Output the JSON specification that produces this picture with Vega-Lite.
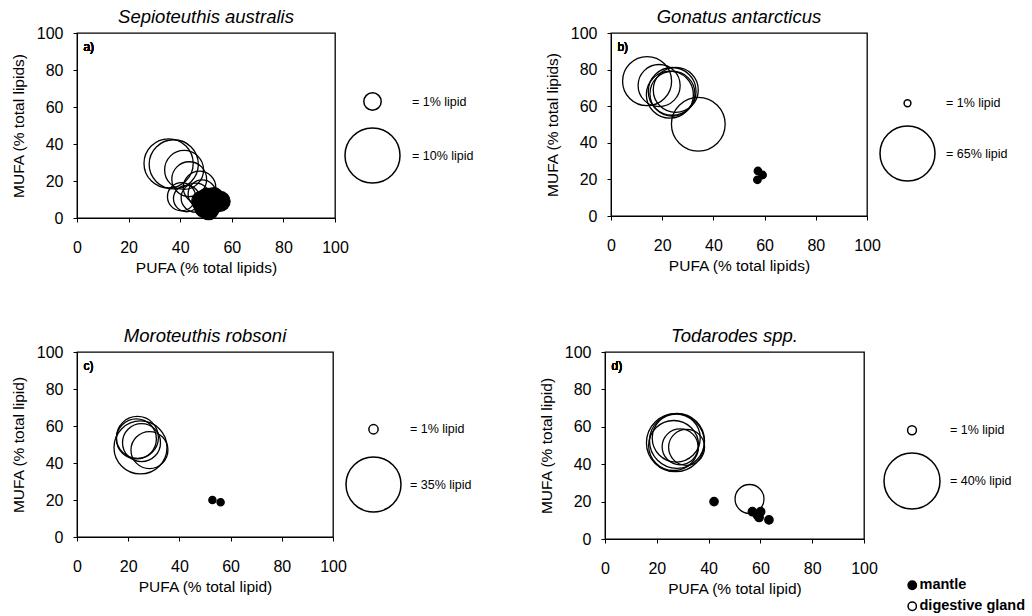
{
  "$schema": "https://vega.github.io/schema/vega-lite/v6.json",
  "background": "white",
  "padding": {"left": 10, "top": 6, "right": 0, "bottom": 0},
  "config": {
    "font": "Liberation Sans",
    "view": {"stroke": "black", "strokeWidth": 1.3},
    "axis": {"grid": false, "domainColor": "black", "tickColor": "black", "tickSize": 4, "tickCount": 10, "labelFontSize": 16, "labelColor": "black", "labelOverlap": false, "labelFlush": false, "labelBound": false, "titleFontSize": 15.5, "titleFontWeight": "normal", "titleColor": "black", "labelPadding": 10, "titlePadding": 10},
    "axisX": {"labelPadding": 17, "titlePadding": 5},
    "title": {"fontSize": 18.5, "fontStyle": "italic", "fontWeight": "normal", "frame": "group", "offset": -1, "color": "black"},
    "legend": {"labelColor": "black", "padding": 0}
  },
  "spacing": 48,
  "resolve": {"scale": {"size": "independent", "fill": "independent"}, "legend": {"size": "independent", "fill": "independent"}},
  "vconcat": [
    {
      "spacing": 69,
      "resolve": {"scale": {"size": "independent", "fill": "independent"}, "legend": {"size": "independent", "fill": "independent"}},
      "hconcat": [
        {
          "title": "Sepioteuthis australis",
          "width": 258, "height": 185,
          "data": {"values": [
            {"PUFA": 35.5, "MUFA": 29.5, "lipid": 8.0, "tissue": "digestive gland"},
            {"PUFA": 37.5, "MUFA": 29, "lipid": 8.0, "tissue": "digestive gland"},
            {"PUFA": 41.5, "MUFA": 26, "lipid": 5.0, "tissue": "digestive gland"},
            {"PUFA": 43.5, "MUFA": 21, "lipid": 4.0, "tissue": "digestive gland"},
            {"PUFA": 47.5, "MUFA": 16.5, "lipid": 3.5, "tissue": "digestive gland"},
            {"PUFA": 40.5, "MUFA": 11.5, "lipid": 2.6, "tissue": "digestive gland"},
            {"PUFA": 42.5, "MUFA": 10.5, "lipid": 2.3, "tissue": "digestive gland"},
            {"PUFA": 46, "MUFA": 11, "lipid": 2.8, "tissue": "digestive gland"},
            {"PUFA": 48.5, "MUFA": 13, "lipid": 2.6, "tissue": "digestive gland"},
            {"PUFA": 48.5, "MUFA": 9, "lipid": 1.4, "tissue": "mantle"},
            {"PUFA": 49.5, "MUFA": 6, "lipid": 1.4, "tissue": "mantle"},
            {"PUFA": 50.5, "MUFA": 10.5, "lipid": 1.4, "tissue": "mantle"},
            {"PUFA": 52, "MUFA": 7, "lipid": 1.4, "tissue": "mantle"},
            {"PUFA": 53, "MUFA": 11, "lipid": 1.3, "tissue": "mantle"},
            {"PUFA": 55.5, "MUFA": 9, "lipid": 1.3, "tissue": "mantle"},
            {"PUFA": 51, "MUFA": 4.5, "lipid": 1.3, "tissue": "mantle"}
          ]},
          "layer": [
            {
              "mark": {"type": "point", "shape": "circle", "filled": true, "stroke": "black", "strokeWidth": 1.3, "opacity": 1},
              "encoding": {
                "x": {"field": "PUFA", "type": "quantitative", "scale": {"domain": [0, 100], "nice": false}, "axis": {"title": "PUFA (% total lipids)", "values": [0, 20, 40, 60, 80, 100], "tickCount": 10, "labelOverlap": false}},
                "y": {"field": "MUFA", "type": "quantitative", "scale": {"domain": [0, 100], "nice": false}, "axis": {"title": "MUFA (% total lipids)", "values": [0, 20, 40, 60, 80, 100], "tickCount": 10, "labelOverlap": false}},
                "size": {"field": "lipid", "type": "quantitative", "scale": {"domain": [0, 10], "range": [0, 3025]},
                  "legend": {"orient": "none", "legendX": 267, "legendY": 59, "values": [1, 10], "title": null, "labelExpr": "'= ' + datum.label + '% lipid'", "labelFontSize": 12.5, "labelOffset": 11, "rowPadding": 11, "symbolType": "circle", "symbolFillColor": "transparent", "symbolStrokeColor": "black", "symbolStrokeWidth": 1.5,
                    "encode": {"symbols": {"update": {"fill": {"value": "transparent"}, "stroke": {"value": "black"}, "strokeWidth": {"signal": "datum.value <= 1 ? 2.5 : 1.4"}}}}}},
                "fill": {"field": "tissue", "type": "nominal", "scale": {"domain": ["mantle", "digestive gland"], "range": ["black", "transparent"]}, "legend": null}
              }
            },
            {
              "mark": {"type": "text", "text": "a)", "align": "left", "baseline": "middle", "fontSize": 12, "fontWeight": "normal"},
              "encoding": {"x": {"datum": 2.5, "type": "quantitative"}, "y": {"datum": 92.5, "type": "quantitative"}}
            }
          ]
        },
        {
          "title": "Gonatus antarcticus",
          "width": 256, "height": 183,
          "data": {"values": [
            {"PUFA": 14.1, "MUFA": 73.7, "lipid": 51.6, "tissue": "digestive gland"},
            {"PUFA": 18.8, "MUFA": 71.3, "lipid": 38, "tissue": "digestive gland"},
            {"PUFA": 23.9, "MUFA": 68.1, "lipid": 49, "tissue": "digestive gland"},
            {"PUFA": 24, "MUFA": 66.8, "lipid": 43.5, "tissue": "digestive gland"},
            {"PUFA": 23, "MUFA": 66.3, "lipid": 47.5, "tissue": "digestive gland"},
            {"PUFA": 25.3, "MUFA": 68.9, "lipid": 43.5, "tissue": "digestive gland"},
            {"PUFA": 34.1, "MUFA": 50.1, "lipid": 62, "tissue": "digestive gland"},
            {"PUFA": 57.4, "MUFA": 24.6, "lipid": 1.2, "tissue": "mantle"},
            {"PUFA": 57.2, "MUFA": 19.8, "lipid": 1.2, "tissue": "mantle"},
            {"PUFA": 59.2, "MUFA": 22.4, "lipid": 1.2, "tissue": "mantle"}
          ]},
          "layer": [
            {
              "mark": {"type": "point", "shape": "circle", "filled": true, "stroke": "black", "strokeWidth": 1.3, "opacity": 1},
              "encoding": {
                "x": {"field": "PUFA", "type": "quantitative", "scale": {"domain": [0, 100], "nice": false}, "axis": {"title": "PUFA (% total lipids)", "values": [0, 20, 40, 60, 80, 100], "tickCount": 10, "labelOverlap": false}},
                "y": {"field": "MUFA", "type": "quantitative", "scale": {"domain": [0, 100], "nice": false}, "axis": {"title": "MUFA (% total lipids)", "values": [0, 20, 40, 60, 80, 100], "tickCount": 10, "labelOverlap": false}},
                "size": {"field": "lipid", "type": "quantitative", "scale": {"domain": [0, 65], "range": [0, 3025]},
                  "legend": {"orient": "none", "legendX": 268, "legendY": 64, "values": [1, 65], "title": null, "labelExpr": "'= ' + datum.label + '% lipid'", "labelFontSize": 12.5, "labelOffset": 10, "rowPadding": 13, "symbolType": "circle", "symbolFillColor": "transparent", "symbolStrokeColor": "black", "symbolStrokeWidth": 1.5,
                    "encode": {"symbols": {"update": {"fill": {"value": "transparent"}, "stroke": {"value": "black"}, "strokeWidth": {"signal": "datum.value <= 1 ? 2.5 : 1.4"}}}}}},
                "fill": {"field": "tissue", "type": "nominal", "scale": {"domain": ["mantle", "digestive gland"], "range": ["black", "transparent"]}, "legend": null}
              }
            },
            {
              "mark": {"type": "text", "text": "b)", "align": "left", "baseline": "middle", "fontSize": 12, "fontWeight": "normal"},
              "encoding": {"x": {"datum": 2.5, "type": "quantitative"}, "y": {"datum": 92.5, "type": "quantitative"}}
            }
          ]
        }
      ]
    },
    {
      "spacing": 65,
      "resolve": {"scale": {"size": "independent", "fill": "independent"}, "legend": {"size": "independent", "fill": "independent"}},
      "hconcat": [
        {
          "title": "Moroteuthis robsoni",
          "width": 256, "height": 185,
          "data": {"values": [
            {"PUFA": 24.8, "MUFA": 48.4, "lipid": 32.5, "tissue": "digestive gland"},
            {"PUFA": 23.6, "MUFA": 53.8, "lipid": 20.4, "tissue": "digestive gland"},
            {"PUFA": 23.2, "MUFA": 53, "lipid": 18.5, "tissue": "digestive gland"},
            {"PUFA": 25.2, "MUFA": 51, "lipid": 16.7, "tissue": "digestive gland"},
            {"PUFA": 28.3, "MUFA": 47, "lipid": 15.8, "tissue": "digestive gland"},
            {"PUFA": 52.9, "MUFA": 20, "lipid": 0.6, "tissue": "mantle"},
            {"PUFA": 56.1, "MUFA": 18.8, "lipid": 0.6, "tissue": "mantle"}
          ]},
          "layer": [
            {
              "mark": {"type": "point", "shape": "circle", "filled": true, "stroke": "black", "strokeWidth": 1.3, "opacity": 1},
              "encoding": {
                "x": {"field": "PUFA", "type": "quantitative", "scale": {"domain": [0, 100], "nice": false}, "axis": {"title": "PUFA (% total lipid)", "values": [0, 20, 40, 60, 80, 100], "tickCount": 10, "labelOverlap": false}},
                "y": {"field": "MUFA", "type": "quantitative", "scale": {"domain": [0, 100], "nice": false}, "axis": {"title": "MUFA (% total lipid)", "values": [0, 20, 40, 60, 80, 100], "tickCount": 10, "labelOverlap": false}},
                "size": {"field": "lipid", "type": "quantitative", "scale": {"domain": [0, 35], "range": [0, 3025]},
                  "legend": {"orient": "none", "legendX": 268, "legendY": 71, "values": [1, 35], "title": null, "labelExpr": "'= ' + datum.label + '% lipid'", "labelFontSize": 12.5, "labelOffset": 8, "rowPadding": 17, "symbolType": "circle", "symbolFillColor": "transparent", "symbolStrokeColor": "black", "symbolStrokeWidth": 1.5,
                    "encode": {"symbols": {"update": {"fill": {"value": "transparent"}, "stroke": {"value": "black"}, "strokeWidth": {"signal": "datum.value <= 1 ? 2.5 : 1.6"}}}}}},
                "fill": {"field": "tissue", "type": "nominal", "scale": {"domain": ["mantle", "digestive gland"], "range": ["black", "transparent"]}, "legend": null}
              }
            },
            {
              "mark": {"type": "text", "text": "c)", "align": "left", "baseline": "middle", "fontSize": 12, "fontWeight": "normal"},
              "encoding": {"x": {"datum": 2.5, "type": "quantitative"}, "y": {"datum": 92.5, "type": "quantitative"}}
            }
          ]
        },
        {
          "title": "Todarodes spp.",
          "width": 259, "height": 187,
          "data": {"values": [
            {"PUFA": 27.2, "MUFA": 51.5, "lipid": 42.9, "tissue": "digestive gland"},
            {"PUFA": 27.5, "MUFA": 54, "lipid": 29.4, "tissue": "digestive gland"},
            {"PUFA": 26.5, "MUFA": 50, "lipid": 31.9, "tissue": "digestive gland"},
            {"PUFA": 29, "MUFA": 49.3, "lipid": 16.5, "tissue": "digestive gland"},
            {"PUFA": 31.5, "MUFA": 49, "lipid": 16.5, "tissue": "digestive gland"},
            {"PUFA": 27.8, "MUFA": 52.5, "lipid": 38.6, "tissue": "digestive gland"},
            {"PUFA": 55.8, "MUFA": 21.4, "lipid": 10.7, "tissue": "digestive gland"},
            {"PUFA": 42.1, "MUFA": 20, "lipid": 0.9, "tissue": "mantle"},
            {"PUFA": 56.9, "MUFA": 14.6, "lipid": 0.9, "tissue": "mantle"},
            {"PUFA": 58.8, "MUFA": 12.8, "lipid": 0.9, "tissue": "mantle"},
            {"PUFA": 60.1, "MUFA": 14.6, "lipid": 0.9, "tissue": "mantle"},
            {"PUFA": 59.5, "MUFA": 11.5, "lipid": 0.9, "tissue": "mantle"},
            {"PUFA": 63.3, "MUFA": 10.2, "lipid": 0.9, "tissue": "mantle"}
          ]},
          "layer": [
            {
              "mark": {"type": "point", "shape": "circle", "filled": true, "stroke": "black", "strokeWidth": 1.3, "opacity": 1},
              "encoding": {
                "x": {"field": "PUFA", "type": "quantitative", "scale": {"domain": [0, 100], "nice": false}, "axis": {"title": "PUFA (% total lipid)", "values": [0, 20, 40, 60, 80, 100], "tickCount": 10, "labelOverlap": false}},
                "y": {"field": "MUFA", "type": "quantitative", "scale": {"domain": [0, 100], "nice": false}, "axis": {"title": "MUFA (% total lipid)", "values": [0, 20, 40, 60, 80, 100], "tickCount": 10, "labelOverlap": false}},
                "size": {"field": "lipid", "type": "quantitative", "scale": {"domain": [0, 40], "range": [0, 3136]},
                  "legend": {"orient": "none", "legendX": 278, "legendY": 72, "values": [1, 40], "title": null, "labelExpr": "'= ' + datum.label + '% lipid'", "labelFontSize": 12.5, "labelOffset": 9, "rowPadding": 12, "symbolType": "circle", "symbolFillColor": "transparent", "symbolStrokeColor": "black", "symbolStrokeWidth": 1.5,
                    "encode": {"symbols": {"update": {"fill": {"value": "transparent"}, "stroke": {"value": "black"}, "strokeWidth": {"signal": "datum.value <= 1 ? 2.5 : 1.6"}}}}}},
                "fill": {"field": "tissue", "type": "nominal", "scale": {"domain": ["mantle", "digestive gland"], "range": ["black", "transparent"]},
                  "legend": {"orient": "none", "legendX": 300, "legendY": 226, "title": null, "labelFontSize": 14.5, "labelFontWeight": "bold", "labelOffset": 0, "rowPadding": 5, "symbolSize": 70, "symbolType": "circle", "symbolStrokeColor": "black", "symbolStrokeWidth": 1.5}}
              }
            },
            {
              "mark": {"type": "text", "text": "d)", "align": "left", "baseline": "middle", "fontSize": 12, "fontWeight": "normal"},
              "encoding": {"x": {"datum": 2.5, "type": "quantitative"}, "y": {"datum": 92.5, "type": "quantitative"}}
            }
          ]
        }
      ]
    }
  ]
}
